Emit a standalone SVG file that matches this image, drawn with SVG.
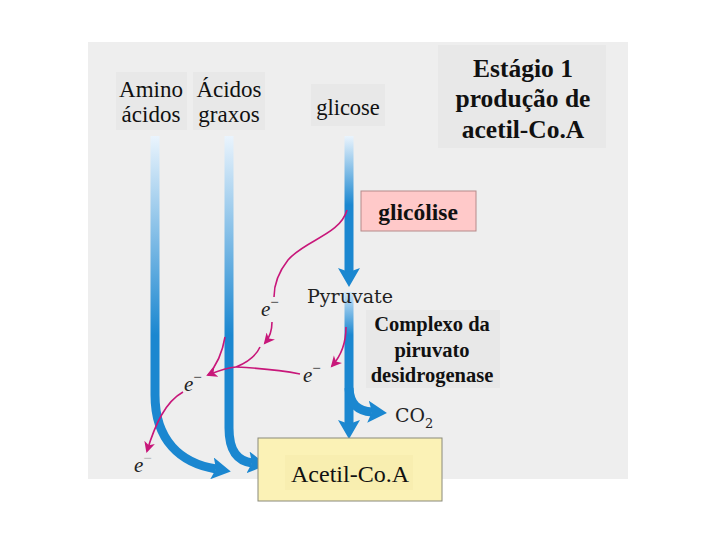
<svg xmlns="http://www.w3.org/2000/svg" width="720" height="540" viewBox="0 0 720 540">
<style>
.t{font-family:"Liberation Serif","Times New Roman",serif;fill:#111}
.b{font-weight:bold}
.pipe{fill:none;stroke-width:9;stroke-linecap:butt}
.mg{fill:none;stroke:#c8177a;stroke-width:1.6}
.e{font-family:"Liberation Serif",serif;font-style:italic;font-size:21px;fill:#222}
.lbl{fill:#e8e8e8}
</style>
<defs>
<linearGradient id="gL" gradientUnits="userSpaceOnUse" x1="0" y1="136" x2="0" y2="335">
<stop offset="0" stop-color="#eaf4fd"/><stop offset="1" stop-color="#1b87d0"/></linearGradient>
<linearGradient id="gG" gradientUnits="userSpaceOnUse" x1="0" y1="136" x2="0" y2="205">
<stop offset="0" stop-color="#eaf4fd"/><stop offset="1" stop-color="#1b87d0"/></linearGradient>
<linearGradient id="gP" gradientUnits="userSpaceOnUse" x1="0" y1="290" x2="0" y2="335">
<stop offset="0" stop-color="#d8ebfb"/><stop offset="1" stop-color="#1b87d0"/></linearGradient>
<marker id="ab" markerUnits="userSpaceOnUse" markerWidth="20" markerHeight="22" refX="4" refY="11" orient="auto">
<path d="M0,0 L19,11 L0,22 L4,11 z" fill="#1b87d0"/></marker>
<marker id="am" markerUnits="userSpaceOnUse" markerWidth="12" markerHeight="12" refX="9" refY="5.5" orient="auto">
<path d="M0,0 L11,5.5 L0,11 L3,5.5 z" fill="#c8177a"/></marker>
</defs>
<rect x="88" y="42" width="540" height="437" fill="#eeeeee"/>
<rect class="lbl" x="116" y="72" width="71" height="58"/>
<rect class="lbl" x="193" y="72" width="72" height="58"/>
<rect class="lbl" x="311" y="84" width="74" height="42"/>
<rect class="lbl" x="438" y="45" width="168" height="103"/>
<rect class="lbl" x="366" y="310" width="134" height="78"/>
<g id="connectors">
<path class="pipe" stroke="url(#gL)" d="M155,136 V395 C155,440 180,463 216,469" marker-end="url(#ab)"/>
<path class="pipe" stroke="url(#gL)" d="M229,136 V428 C229,452 238,461 252,463" marker-end="url(#ab)"/>
<path class="pipe" stroke="url(#gG)" d="M349,136 V272" marker-end="url(#ab)"/>
<path class="pipe" stroke="url(#gP)" d="M349,292 V424" marker-end="url(#ab)"/>
<path class="pipe" stroke="#1b87d0" d="M349,388 C350,405 358,411 372,412" marker-end="url(#ab)"/>
<path class="mg" d="M347,210 C340,235 305,240 288,260 C277,274 274,288 274,297"/>
<path class="mg" d="M272,322 C272,330 270,337 265,343" marker-end="url(#am)"/>
<path class="mg" d="M300,374 C280,370 255,368 236,367 C248,362 256,356 260,347"/>
<path class="mg" d="M236,367 C225,368 218,371 208,375" marker-end="url(#am)"/>
<path class="mg" d="M225,337 C222,355 216,366 208,375"/>
<path class="mg" d="M183,392 C165,402 155,425 147,451" marker-end="url(#am)"/>
<path class="mg" d="M346,327 C346,345 340,357 332,366" marker-end="url(#am)"/>
</g>
<g id="amino"><text class="t" font-size="23" x="151" y="97" text-anchor="middle">Amino</text><text class="t" font-size="23" x="151" y="122" text-anchor="middle">ácidos</text></g>
<g id="graxos"><text class="t" font-size="23" x="229" y="97" text-anchor="middle">Ácidos</text><text class="t" font-size="23" x="229" y="122" text-anchor="middle">graxos</text></g>
<g id="glicose"><text class="t" font-size="22.5" x="348" y="115" text-anchor="middle">glicose</text></g>
<g id="estagio"><text class="t b" font-size="25.5" text-anchor="middle"><tspan x="523" y="77">Estágio 1</tspan><tspan x="523" y="107">produção de</tspan><tspan x="523" y="138">acetil-Co.A</tspan></text></g>
<g id="glicolise"><rect x="361" y="191" width="115" height="40" fill="#ffc9c9" stroke="#b58a8a" stroke-width="1"/><text class="t b" font-size="23.5" x="418" y="220" text-anchor="middle">glicólise</text></g>
<g id="pyruvate"><text x="307" y="303" font-family="DejaVu Serif,serif" font-size="19" fill="#222" textLength="86" lengthAdjust="spacingAndGlyphs">Pyruvate</text></g>
<g id="complexo"><text class="t b" font-size="20.5" text-anchor="middle"><tspan x="432" y="331">Complexo da</tspan><tspan x="432" y="357">piruvato</tspan><tspan x="432" y="382">desidrogenase</tspan></text></g>
<g id="co2"><text x="395" y="422" font-family="DejaVu Serif,serif" font-size="19" fill="#222" textLength="30" lengthAdjust="spacingAndGlyphs">CO</text><text x="425" y="428" font-family="DejaVu Serif,serif" font-size="13" fill="#222">2</text></g>
<g id="e1"><text class="e" x="261" y="316">e<tspan font-size="15" font-style="normal" dy="-9">−</tspan></text></g>
<g id="e2"><text class="e" x="303" y="382">e<tspan font-size="15" font-style="normal" dy="-9">−</tspan></text></g>
<g id="e3"><text class="e" x="184" y="391">e<tspan font-size="15" font-style="normal" dy="-9">−</tspan></text></g>
<g id="e4"><text class="e" x="134" y="472">e<tspan font-size="15" font-style="normal" dy="-9" fill="#aaa">−</tspan></text></g>
<g id="acetil"><rect x="258" y="438" width="184" height="63" fill="#fbf2b6" stroke="#8a8a7a" stroke-width="1"/><rect x="285" y="455" width="128" height="35" fill="#f8eeb0"/><text class="t" font-size="24" x="350" y="482" text-anchor="middle">Acetil-Co.A</text></g>
</svg>
